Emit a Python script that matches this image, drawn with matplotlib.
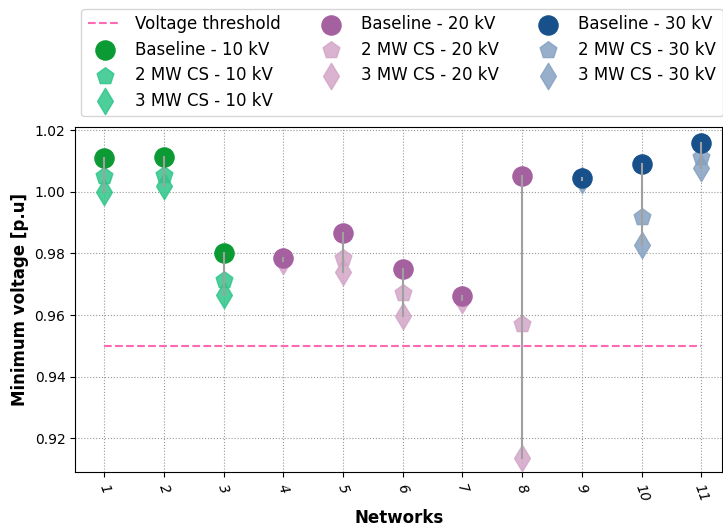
import matplotlib
matplotlib.use('Agg')
import matplotlib.pyplot as plt

networks = [1, 2, 3, 4, 5, 6, 7, 8, 9, 10, 11]
voltage_levels = ['10 kV', '10 kV', '10 kV', '20 kV', '20 kV', '20 kV', '20 kV', '20 kV', '30 kV', '30 kV', '30 kV']

baseline = [1.0109, 1.0112, 0.9800, 0.9784, 0.9866, 0.9749, 0.9661, 1.0051, 1.0044, 1.0090, 1.0158]
cs_2mw = [1.0051, 1.0054, 0.9713, 0.9783, 0.9784, 0.9670, 0.9656, 0.9570, 1.0043, 0.9920, 1.0112]
cs_3mw = [1.0000, 1.0018, 0.9665, 0.9777, 0.9740, 0.9596, 0.9648, 0.9135, 1.0040, 0.9827, 1.0077]

threshold = 0.95

# colours per voltage level: (baseline, charging station cases)
colors = {'10 kV': ('#0b9a33', '#2fc68a'),
          '20 kV': ('#a5609f', '#d3a6c8'),
          '30 kV': ('#17508a', '#85a1c1')}

fig = plt.figure(figsize=(7.23, 5.28), dpi=100)
ax = fig.add_axes([0.104, 0.106, 0.895, 0.653])

# gray line from baseline down to lowest value
for i, n in enumerate(networks):
    lo = min(baseline[i], cs_2mw[i], cs_3mw[i])
    ax.plot([n, n], [lo, baseline[i]], color='#a0a0a0', linewidth=1.5, zorder=5)

thr_line, = ax.plot([networks[0], networks[-1]], [threshold, threshold], color='#ff69b4',
                    linestyle='--', linewidth=1.5, label='Voltage threshold', zorder=2)

handles = [thr_line]
for level in ['10 kV', '20 kV', '30 kV']:
    idx = [i for i, v in enumerate(voltage_levels) if v == level]
    xs = [networks[i] for i in idx]
    c_base, c_cs = colors[level]
    h1 = ax.scatter(xs, [baseline[i] for i in idx], s=190, marker='o', color=c_base,
                    label='Baseline - ' + level, zorder=4)
    h2 = ax.scatter(xs, [cs_2mw[i] for i in idx], s=160, marker='p', color=c_cs, alpha=0.85,
                    label='2 MW CS - ' + level, zorder=3)
    h3 = ax.scatter(xs, [cs_3mw[i] for i in idx], s=180, marker='d', color=c_cs, alpha=0.85,
                    label='3 MW CS - ' + level, zorder=3)
    handles += [h1, h2, h3]

ax.set_xlim(0.515, 11.35)
ax.set_ylim(0.909, 1.021)
ax.set_xticks(networks)
ax.set_xticklabels([str(n) for n in networks], rotation=-70, fontstyle='italic', fontsize=10)
ax.set_yticks([0.92, 0.94, 0.96, 0.98, 1.00, 1.02])
ax.tick_params(axis='y', labelsize=10)
ax.grid(True, linestyle=':', color='#999999', linewidth=0.8)
ax.set_axisbelow(True)

ax.set_xlabel('Networks', fontsize=12, fontweight='bold')
ax.set_ylabel('Minimum voltage [p.u]', fontsize=12, fontweight='bold')

fig.legend(handles=handles, loc='upper left', bbox_to_anchor=(0.108, 0.99), ncol=3,
           fontsize=12, frameon=True, handletextpad=0.8, columnspacing=2.0,
           labelspacing=0.45, borderaxespad=0.2)

fig.savefig('out.png', dpi=100)
